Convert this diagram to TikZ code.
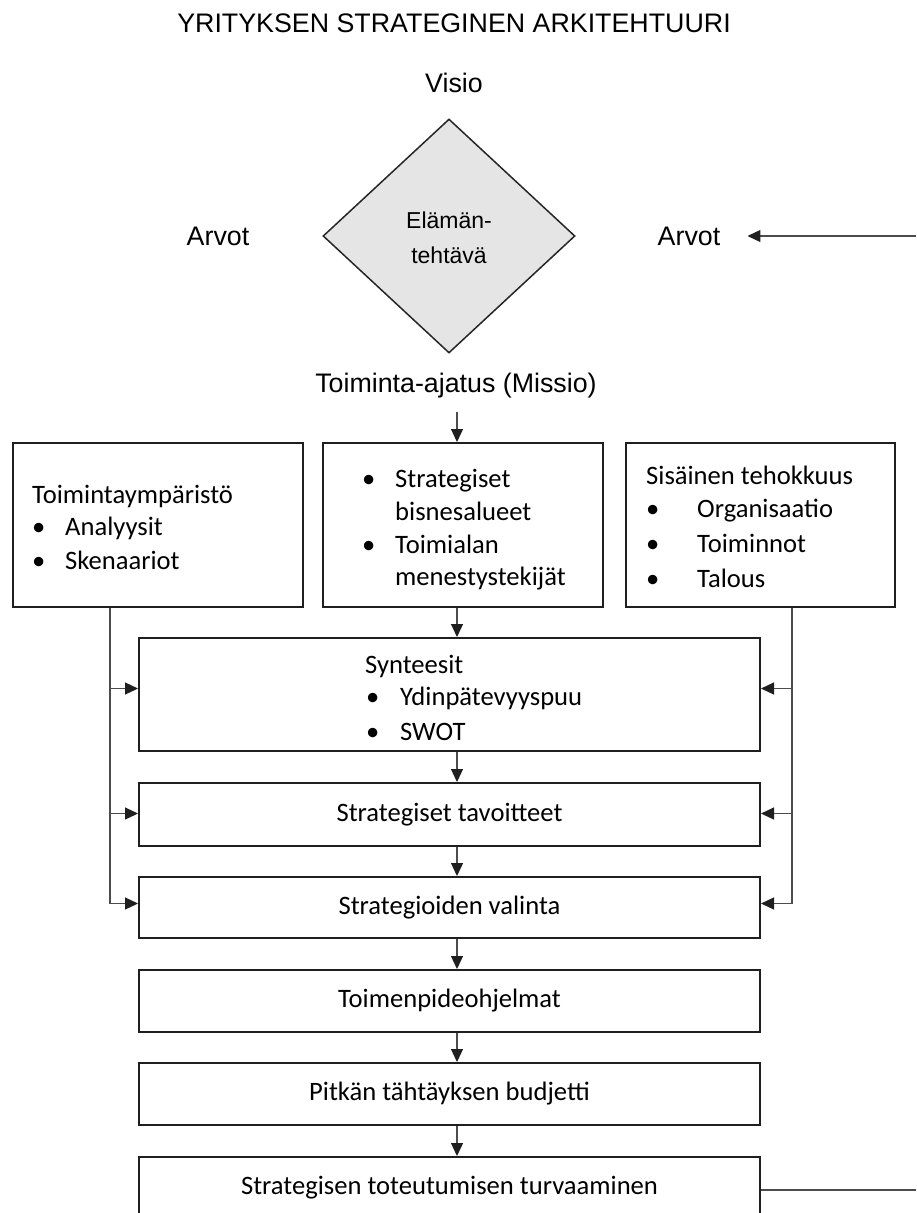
\documentclass[tikz,border=0pt]{standalone}
\usepackage{fontspec}
\setmainfont{Liberation Sans}
\newfontfamily\calibri{Carlito}
\usetikzlibrary{shapes.geometric,arrows.meta,calc}

\tikzset{
  headtxt/.style={font=\fontsize{26.8}{32}\selectfont, inner sep=0pt},
  boxtxt/.style={font=\calibri\fontsize{26.6}{33}\selectfont, inner sep=0pt},
  box/.style={draw=black!88, line width=2pt, fill=white, inner sep=0pt},
  conn/.style={draw=black!70, line width=1.2pt},
  arr/.style={conn, -{Triangle[length=13pt,width=12pt,color=black!88]}},
  linetxt/.style={boxtxt, anchor=base west},
}

\begin{document}
\begin{tikzpicture}[x=1pt,y=-1pt]
  \useasboundingbox (0,0) rectangle (916,1213);
  \clip (0,0) rectangle (916,1213);
  \fill[white] (0,0) rectangle (916,1213);

  % heading and the diamond of purpose
  \node[headtxt, anchor=base] (title) at (454,32) {YRITYKSEN STRATEGINEN ARKITEHTUURI};
  \node[headtxt, anchor=base] (visio) at (454,92) {Visio};
  \node[draw=black!85, line width=1.5pt, fill=black!10, diamond, inner sep=0pt,
        minimum width=252pt, minimum height=234pt] (purpose) at (449,236) {};
  \node[anchor=base, inner sep=0pt, font=\fontsize{23}{35}\selectfont]
        (purposeA) at (purpose.center |- 0,228) {Elämän-};
  \node[anchor=base, inner sep=0pt, font=\fontsize{23}{35}\selectfont]
        (purposeB) at (purpose.center |- 0,263) {tehtävä};
  \node[headtxt, anchor=base] (arvotL) at (218,245) {Arvot};
  \node[headtxt, anchor=base] (arvotR) at (689,245) {Arvot};
  \node[headtxt, anchor=base] (missio) at (456,392) {Toiminta-ajatus (Missio)};
  \coordinate (edgeA) at (916,236);
  \draw[arr] (edgeA) -- ([xshift=27pt]arvotR.east |- edgeA);

  % analysis row
  \node[box, minimum width=290pt, minimum height=164pt] (env) at (158,525) {};
  \node[box, minimum width=280pt, minimum height=164pt] (mid) at (463,525) {};
  \node[box, minimum width=269pt, minimum height=164pt] (intr) at (760.5,525) {};

  \node[linetxt] (envh) at (32,503) {Toimintaympäristö};
  \node[linetxt] (envb1) at (32,535) {•};
  \node[linetxt] (envi1) at (65,535) {Analyysit};
  \node[linetxt] (envb2) at (32,569) {•};
  \node[linetxt] (envi2) at (65,569) {Skenaariot};

  \node[linetxt] (midb1) at (362,487) {•};
  \node[linetxt] (midi1) at (395,487) {Strategiset};
  \node[linetxt] (midi1b) at (395,520) {bisnesalueet};
  \node[linetxt] (midb2) at (362,553) {•};
  \node[linetxt] (midi2) at (395,553) {Toimialan};
  \node[linetxt] (midi2b) at (395,585) {menestystekijät};

  \node[linetxt] (intrh) at (646,484) {Sisäinen tehokkuus};
  \node[linetxt] (intrb1) at (646,517) {•};
  \node[linetxt] (intri1) at (697,517) {Organisaatio};
  \node[linetxt] (intrb2) at (646,552) {•};
  \node[linetxt] (intri2) at (697,552) {Toiminnot};
  \node[linetxt] (intrb3) at (646,587) {•};
  \node[linetxt] (intri3) at (697,587) {Talous};

  % process chain
  \node[box, minimum width=621pt, minimum height=113pt] (syn) at (449.5,694.5) {};
  \node[linetxt] (synh) at (365,673) {Synteesit};
  \node[linetxt] (synb1) at (366,705) {•};
  \node[linetxt] (syni1) at (400,705) {Ydinpätevyyspuu};
  \node[linetxt] (synb2) at (366,740) {•};
  \node[linetxt] (syni2) at (400,740) {SWOT};

  \node[box, boxtxt, minimum width=621pt, minimum height=63pt] (tav) at (449.5,814.5) {Strategiset tavoitteet};
  \node[box, boxtxt, minimum width=621pt, minimum height=61pt] (val) at (449.5,907.5) {Strategioiden valinta};
  \node[box, boxtxt, minimum width=621pt, minimum height=62pt] (ohj) at (449.5,1001) {Toimenpideohjelmat};
  \node[box, boxtxt, minimum width=621pt, minimum height=62pt] (bud) at (449.5,1094) {Pitkän tähtäyksen budjetti};
  \node[box, boxtxt, minimum width=621pt, minimum height=62pt] (tur) at (449.5,1188) {Strategisen toteutumisen turvaaminen};

  % vertical flow
  \coordinate (axis) at (457,0);
  \draw[arr] ([yshift=-20pt]missio.base -| axis) -- (mid.north -| axis);
  \draw[arr] (mid.south -| axis) -- (syn.north -| axis);
  \draw[arr] (syn.south -| axis) -- (tav.north -| axis);
  \draw[arr] (tav.south -| axis) -- (val.north -| axis);
  \draw[arr] (val.south -| axis) -- (ohj.north -| axis);
  \draw[arr] (ohj.south -| axis) -- (bud.north -| axis);
  \draw[arr] (bud.south -| axis) -- (tur.north -| axis);

  % side feeds from the environment and internal analyses
  \coordinate (feedL) at (110,0);
  \coordinate (feedR) at (792,0);
  \draw[conn] (env.south -| feedL) -- ([yshift=4pt]val.west -| feedL);
  \draw[conn] (intr.south -| feedR) -- ([yshift=4pt]val.east -| feedR);
  \draw[arr] ([yshift=6pt]syn.west -| feedL) -- ([yshift=6pt]syn.west);
  \draw[arr] ([yshift=1pt]tav.west -| feedL) -- ([yshift=1pt]tav.west);
  \draw[arr] ([yshift=4pt]val.west -| feedL) -- ([yshift=4pt]val.west);
  \draw[arr] ([yshift=6pt]syn.east -| feedR) -- ([yshift=6pt]syn.east);
  \draw[arr] ([yshift=1pt]tav.east -| feedR) -- ([yshift=1pt]tav.east);
  \draw[arr] ([yshift=4pt]val.east -| feedR) -- ([yshift=4pt]val.east);

  % feedback leaving the last step
  \coordinate (edgeB) at (916,1190);
  \draw[conn] (tur.east |- edgeB) -- (edgeB);
\end{tikzpicture}
\end{document}
